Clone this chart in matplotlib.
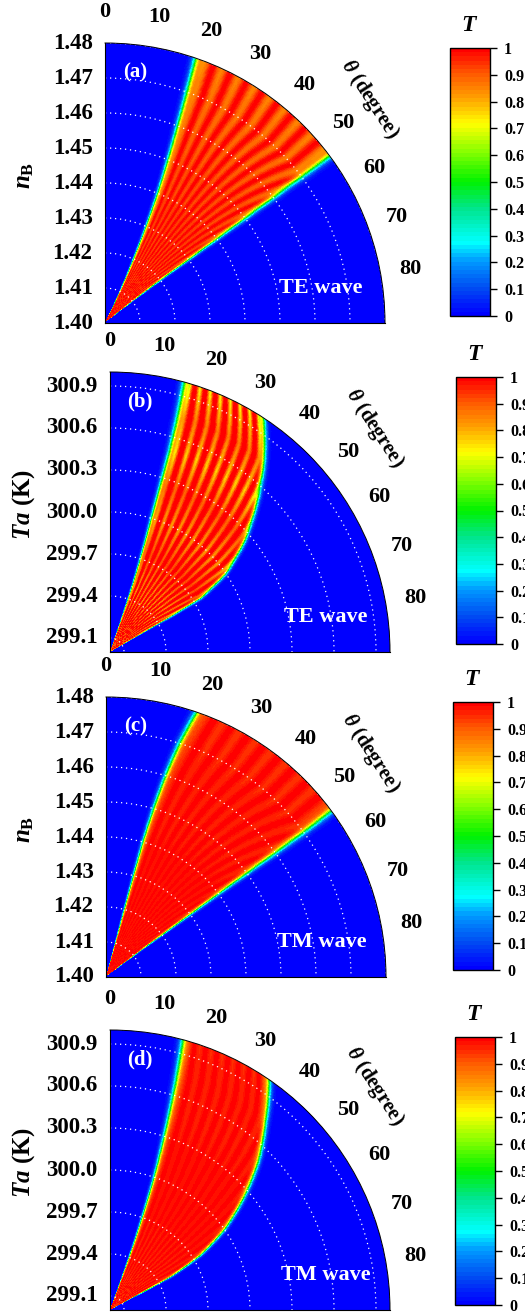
import numpy as np
import matplotlib.pyplot as plt
from matplotlib.colors import LinearSegmentedColormap

plt.rcParams['font.family'] = ['Liberation Serif', 'DejaVu Serif']
plt.rcParams['font.weight'] = 'bold'
plt.rcParams['mathtext.fontset'] = 'custom'
plt.rcParams['mathtext.it'] = 'Liberation Serif:italic:bold'
plt.rcParams['mathtext.rm'] = 'Liberation Serif:bold'
plt.rcParams['mathtext.bf'] = 'Liberation Serif:bold'

# --- data ---
# radial levels (0 = origin, 1 = outer arc) where band edges were read
levels = [0.0, 0.125, 0.25, 0.375, 0.5, 0.625, 0.75, 0.875, 1.0]

nb_range = [1.40, 1.48]
nb_ticks = [1.40, 1.41, 1.42, 1.43, 1.44, 1.45, 1.46, 1.47, 1.48]
ta_range = [299.0, 301.0]
ta_ticks = [299.1, 299.4, 299.7, 300.0, 300.3, 300.6, 300.9]
theta_ticks = [0, 10, 20, 30, 40, 50, 60, 70, 80]
cbar_ticks = [0, 0.1, 0.2, 0.3, 0.4, 0.5, 0.6, 0.7, 0.8, 0.9, 1]

# band edges (degree) at each level
a_left = [27.0, 25.5, 24.2, 23.2, 22.2, 21.2, 20.3, 19.6, 19.0]
a_right = [51.5, 52.0, 52.5, 53.0, 53.2, 53.3, 53.4, 53.4, 53.4]
b_left = [19.5, 19.2, 18.8, 18.0, 17.3, 16.9, 16.6, 16.1, 15.5]
b_right = [60.0, 60.0, 60.0, 59.5, 56.0, 50.5, 44.5, 39.0, 33.3]
c_left = [15.5, 15.4, 15.3, 15.3, 15.4, 15.9, 16.6, 17.6, 19.0]
c_right = [52.5, 53.0, 53.3, 53.5, 53.6, 53.7, 53.8, 53.8, 53.6]
d_left = [20.5, 20.3, 19.9, 19.2, 18.5, 17.6, 16.8, 16.0, 15.2]
d_right = [62.0, 62.0, 61.5, 59.0, 55.0, 50.0, 45.0, 39.5, 34.7]

# fringe depth and fringe count across the band at each level
a_depth = [0.05, 0.06, 0.07, 0.07, 0.08, 0.09, 0.11, 0.13, 0.15]
a_count = [18, 16, 14, 13, 12, 11, 10, 9, 9]
b_depth = [0.12, 0.10, 0.16, 0.09, 0.18, 0.11, 0.24, 0.14, 0.28]
b_count = [16, 14, 13, 12, 11, 10, 9, 8, 8]
c_depth = [0.03, 0.03, 0.03, 0.03, 0.03, 0.04, 0.04, 0.05, 0.06]
c_count = [18, 16, 14, 13, 12, 11, 10, 9, 9]
d_depth = [0.07, 0.05, 0.04, 0.03, 0.03, 0.03, 0.04, 0.04, 0.05]
d_count = [16, 14, 13, 12, 11, 10, 9, 8, 8]

# rainbow colour scale of the colour bar
cmap = LinearSegmentedColormap.from_list('rainbow_T', [
    (0.00, (0.00, 0.00, 1.00)),
    (0.10, (0.00, 0.30, 0.95)),
    (0.20, (0.00, 0.60, 1.00)),
    (0.27, (0.00, 1.00, 1.00)),
    (0.40, (0.00, 0.90, 0.55)),
    (0.50, (0.00, 0.95, 0.00)),
    (0.62, (0.55, 1.00, 0.00)),
    (0.72, (1.00, 1.00, 0.00)),
    (0.82, (1.00, 0.62, 0.00)),
    (0.91, (1.00, 0.35, 0.00)),
    (1.00, (1.00, 0.00, 0.00)),
]).resampled(64)


def band_field(rng, left, right, depth, count, sharp):
    """Transmission map on a (r, theta) grid built from the band edges."""
    th = np.linspace(0, 90, 721)
    r = np.linspace(rng[0], rng[1], 241)
    TH, R = np.meshgrid(th, r)
    rho = (R - rng[0]) / (rng[1] - rng[0])
    lo = np.interp(rho, levels, left)
    hi = np.interp(rho, levels, right)
    dp = np.interp(rho, levels, depth)
    n = np.interp(rho, levels, count)
    w = 0.45
    edge = 1 / (1 + np.exp(-(TH - lo) / w)) / (1 + np.exp(-(hi - TH) / w))
    u = np.clip((TH - lo) / (hi - lo), 0, 1)
    T = edge * (1 - dp * np.sin(np.pi * n * u) ** sharp)
    return np.radians(th), r, T


W, H = 525, 1313
fig = plt.figure(figsize=(W / 100, H / 100), dpi=100)

panels = [
    # origin (px), cbar box (px), range, ticks, fmt, edges, tag, wave, ylabel
    dict(org=(105, 323), cb=(450, 48, 40, 268), rng=nb_range, ticks=nb_ticks, fmt='%.2f',
         left=a_left, right=a_right, depth=a_depth, count=a_count, sharp=2,
         tag='(a)', wave='TE wave', ylab=r'$n_\mathbf{B}$'),
    dict(org=(110, 652), cb=(456, 377, 40, 267), rng=ta_range, ticks=ta_ticks, fmt='%.1f',
         left=b_left, right=b_right, depth=b_depth, count=b_count, sharp=4,
         tag='(b)', wave='TE wave', ylab=r'$Ta$ (K)'),
    dict(org=(106, 977), cb=(453, 702, 40, 268), rng=nb_range, ticks=nb_ticks, fmt='%.2f',
         left=c_left, right=c_right, depth=c_depth, count=c_count, sharp=2,
         tag='(c)', wave='TM wave', ylab=r'$n_\mathbf{B}$'),
    dict(org=(110, 1310), cb=(455, 1037, 40, 268), rng=ta_range, ticks=ta_ticks, fmt='%.1f',
         left=d_left, right=d_right, depth=d_depth, count=d_count, sharp=2,
         tag='(d)', wave='TM wave', ylab=r'$Ta$ (K)'),
]

Rpx = 280
for p in panels:
    ox, oy = p['org']
    ax = fig.add_axes([ox / W, 1 - oy / H, Rpx / W, Rpx / H], projection='polar')
    th, r, T = band_field(p['rng'], p['left'], p['right'], p['depth'], p['count'],
                          p['sharp'])
    mesh = ax.pcolormesh(th, r, T, cmap=cmap, vmin=0, vmax=1, shading='auto',
                         rasterized=True)

    ax.set_theta_zero_location('N')
    ax.set_theta_direction(-1)
    ax.set_thetamin(0)
    ax.set_thetamax(90)
    ax.set_rlim(p['rng'][0], p['rng'][1])

    # angle ticks
    ax.set_thetagrids(theta_ticks, labels=[str(t) for t in theta_ticks])
    ax.tick_params(axis='x', labelsize=16, pad=15, length=0)
    ax.xaxis.grid(False)

    # radial ticks along the vertical edge
    ticks = p['ticks']
    ax.set_yticks(ticks)
    ax.set_yticklabels([p['fmt'] % v for v in ticks])
    minor = [(a + b) / 2 for a, b in zip(ticks[:-1], ticks[1:])]
    ax.set_yticks(minor, minor=True)
    ax.tick_params(axis='y', which='major', labelsize=16.5, length=6, width=1,
                   color='0.35', direction='out', pad=3)
    ax.tick_params(axis='y', which='minor', length=3, width=1, color='0.35',
                   direction='out')
    ax.yaxis.grid(True, color='white', linestyle=(0, (1, 3)), linewidth=0.9)

    for s in ['start', 'end', 'inner']:
        ax.spines[s].set_visible(False)
    ax.spines['polar'].set_linewidth(0.7)
    ax.spines['polar'].set_zorder(5)

    ax.text(0.107, 0.896, p['tag'], transform=ax.transAxes, color='white',
            fontsize=15, ha='center', va='center')
    ax.text(0.77, 0.125, p['wave'], transform=ax.transAxes, color='white',
            fontsize=16, ha='center', va='center')
    ax.text(0.945, 0.80, r'$\theta$ (degree)', transform=ax.transAxes,
            rotation=-57, fontsize=15, ha='center', va='center')

    fig.text(24 / W, 1 - (oy - 148) / H, p['ylab'], rotation=90, fontsize=18,
             ha='center', va='center')

    # colour bar (its labels run off the right edge, as in the original)
    cx, cy, cw, ch = p['cb']
    cax = fig.add_axes([cx / W, 1 - (cy + ch) / H, cw / W, ch / H])
    cb = fig.colorbar(mesh, cax=cax, ticks=cbar_ticks)
    cb.ax.set_yticklabels([('%g' % t) for t in cbar_ticks])
    cb.ax.tick_params(labelsize=11.5, length=5, width=1, pad=5)
    cb.outline.set_linewidth(1)
    cax.set_title('$T$', fontsize=17, pad=12)

fig.savefig('out.png', dpi=100)
